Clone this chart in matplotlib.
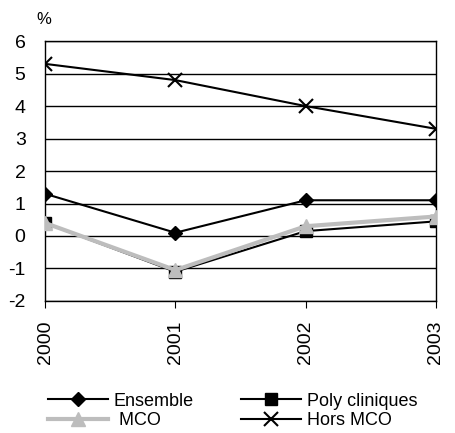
import matplotlib.pyplot as plt

plt.rcParams['font.family'] = ['Liberation Sans', 'DejaVu Sans']
plt.rcParams['axes.unicode_minus'] = False

years = ['2000', '2001', '2002', '2003']
ensemble = [1.3, 0.1, 1.1, 1.1]
poly = [0.4, -1.1, 0.15, 0.45]
mco = [0.4, -1.05, 0.3, 0.6]
hors_mco = [5.3, 4.8, 4.0, 3.3]

fig = plt.figure(figsize=(4.55, 4.33), dpi=100)
ax = fig.add_axes([0.099, 0.305, 0.859, 0.6])
x = range(len(years))

l1, = ax.plot(x, ensemble, color='black', lw=1.5, marker='D', ms=7, label='Ensemble', zorder=4)
l2, = ax.plot(x, poly, color='black', lw=1.5, marker='s', ms=8, label='Poly cliniques', zorder=3)
l3, = ax.plot(x, mco, color='#bdbdbd', lw=3, marker='^', ms=10, label=' MCO', zorder=5)
l4, = ax.plot(x, hors_mco, color='black', lw=1.5, marker='x', ms=10, mew=1.5, label='Hors MCO', zorder=4)

ax.set_xlim(0, 3)
ax.set_ylim(-2, 6)
ax.set_yticks(range(-2, 7))
ax.set_xticks(list(x))
ax.set_xticklabels(years, rotation=90, fontsize=14)
ax.tick_params(axis='y', length=0, labelsize=14, pad=14)
ax.tick_params(axis='x', length=5, direction='out', pad=9)
ax.grid(axis='y', color='black', lw=1)
ax.set_axisbelow(True)
for s in ax.spines.values():
    s.set_linewidth(1)

fig.text(0.08, 0.955, '%', fontsize=12, va='center')

# row-wise order: Ensemble, Poly cliniques / MCO, Hors MCO
ax.legend([l1, l3, l2, l4], ['Ensemble', ' MCO', 'Poly cliniques', 'Hors MCO'],
          ncol=2, loc='upper center', bbox_to_anchor=(0.48, -0.29), frameon=False,
          fontsize=13, handlelength=3.3, columnspacing=2.6, labelspacing=0.15,
          handletextpad=0.35)

fig.savefig('out.png', dpi=100)
